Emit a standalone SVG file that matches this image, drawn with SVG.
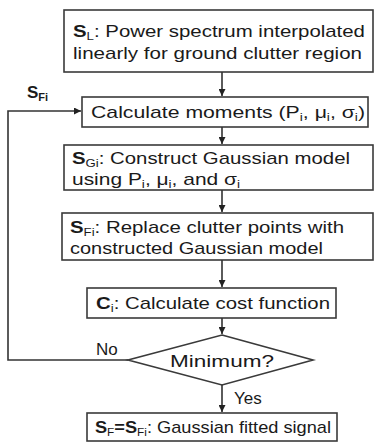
<svg xmlns="http://www.w3.org/2000/svg" width="376" height="448" viewBox="0 0 376 448">
<style>
.box{fill:#fff;stroke:#3a3a3a;stroke-width:1.6}
.t{font-family:"Liberation Sans",Arial,sans-serif;font-size:17px;fill:#1a1a1a}
.b{font-weight:bold}
.s{font-size:11px}
.c{stroke:#333;stroke-width:1.6;fill:none}
</style>
<defs>
<marker id="ah" viewBox="0 0 10 10" refX="10" refY="5" markerWidth="7" markerHeight="7" markerUnits="userSpaceOnUse" orient="auto">
<path d="M0,0 L10,5 L0,10 z" fill="#222"/>
</marker>
</defs>
<rect width="376" height="448" fill="#fff"/>
<g id="n1">
<rect class="box" x="64" y="10" width="309" height="62"/>
<text class="t" x="73" y="37" textLength="292" lengthAdjust="spacingAndGlyphs"><tspan class="b">S</tspan><tspan class="s" dy="3">L</tspan><tspan dy="-3">: Power spectrum interpolated</tspan></text>
<text class="t" x="73" y="59" textLength="289" lengthAdjust="spacingAndGlyphs">linearly for ground clutter region</text>
</g>
<g id="n2">
<rect class="box" x="82" y="97" width="286" height="30"/>
<text class="t" x="91" y="118" textLength="274" lengthAdjust="spacingAndGlyphs">Calculate moments (P<tspan class="s" dy="3">i</tspan><tspan dy="-3">, μ</tspan><tspan class="s" dy="3">i</tspan><tspan dy="-3">, σ</tspan><tspan class="s" dy="3">i</tspan><tspan dy="-3">)</tspan></text>
</g>
<g id="n3">
<rect class="box" x="64" y="145" width="309" height="45"/>
<text class="t" x="72" y="164" textLength="278" lengthAdjust="spacingAndGlyphs"><tspan class="b">S</tspan><tspan class="s" dy="3">Gi</tspan><tspan dy="-3">: Construct Gaussian model</tspan></text>
<text class="t" x="72" y="185" textLength="168" lengthAdjust="spacingAndGlyphs">using P<tspan class="s" dy="3">i</tspan><tspan dy="-3">, μ</tspan><tspan class="s" dy="3">i</tspan><tspan dy="-3">, and σ</tspan><tspan class="s" dy="3">i</tspan></text>
</g>
<g id="n4">
<rect class="box" x="62" y="213" width="311" height="47"/>
<text class="t" x="70" y="233" textLength="274" lengthAdjust="spacingAndGlyphs"><tspan class="b">S</tspan><tspan class="s" dy="3">Fi</tspan><tspan dy="-3">: Replace clutter points with</tspan></text>
<text class="t" x="70" y="254" textLength="253" lengthAdjust="spacingAndGlyphs">constructed Gaussian model</text>
</g>
<g id="n5">
<rect class="box" x="87" y="288" width="249" height="30"/>
<text class="t" x="96" y="309" textLength="234" lengthAdjust="spacingAndGlyphs"><tspan class="b">C</tspan><tspan class="s" dy="3">i</tspan><tspan dy="-3">: Calculate cost function</tspan></text>
</g>
<g id="n6">
<path class="box" d="M222,335 L313,360 L222,385 L128,360 z"/>
<text class="t" x="222" y="367" text-anchor="middle" textLength="104" lengthAdjust="spacingAndGlyphs">Minimum?</text>
</g>
<g id="n7">
<rect class="box" x="87" y="413" width="250" height="28"/>
<text class="t" x="95" y="433" textLength="236" lengthAdjust="spacingAndGlyphs"><tspan class="b">S</tspan><tspan class="s" dy="3">F</tspan><tspan class="b" dy="-3">=S</tspan><tspan class="s" dy="3">Fi</tspan><tspan dy="-3">: Gaussian fitted signal</tspan></text>
</g>
<g id="connectors">
<line class="c" x1="222" y1="72" x2="222" y2="96" marker-end="url(#ah)"/>
<line class="c" x1="222" y1="127" x2="222" y2="144" marker-end="url(#ah)"/>
<line class="c" x1="222" y1="190" x2="222" y2="212" marker-end="url(#ah)"/>
<line class="c" x1="222" y1="260" x2="222" y2="287" marker-end="url(#ah)"/>
<line class="c" x1="222" y1="318" x2="222" y2="334" marker-end="url(#ah)"/>
<line class="c" x1="222" y1="385" x2="222" y2="412" marker-end="url(#ah)"/>
<polyline class="c" points="128,360 8,360 8,111 81,111" marker-end="url(#ah)"/>
<text class="t" x="27" y="98"><tspan class="b">S</tspan><tspan class="s b" dy="3">Fi</tspan></text>
<text class="t" x="96" y="355">No</text>
<text class="t" x="234" y="404">Yes</text>
</g>
</svg>
